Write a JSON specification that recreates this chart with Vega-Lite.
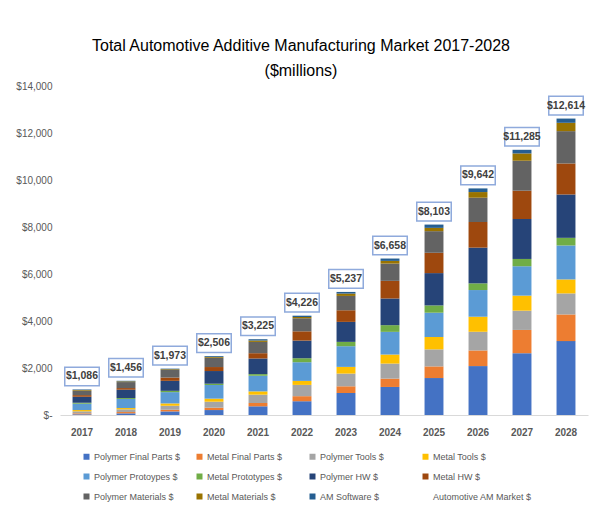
{
  "$schema": "https://vega.github.io/schema/vega-lite/v6.json",
  "width": 528,
  "height": 329,
  "autosize": {"type": "none"},
  "padding": {"left": 60, "top": 86, "right": 5, "bottom": 93},
  "background": "white",
  "config": {
    "view": {"stroke": null},
    "font": "Liberation Sans"
  },
  "title": {
    "text": ["Total Automotive Additive Manufacturing Market 2017-2028", "($millions)"],
    "font": "Liberation Sans",
    "fontSize": 16,
    "fontWeight": "normal",
    "color": "#000000",
    "lineHeight": 25,
    "anchor": "middle",
    "frame": "group",
    "dx": -23,
    "offset": 2
  },
  "datasets": {
    "segments": [
      {"year": "2017", "series": "Polymer Final Parts $", "value": 31},
      {"year": "2017", "series": "Metal Final Parts $", "value": 40},
      {"year": "2017", "series": "Polymer Tools $", "value": 85},
      {"year": "2017", "series": "Metal Tools $", "value": 55},
      {"year": "2017", "series": "Polymer Protoypes $", "value": 270},
      {"year": "2017", "series": "Metal Prototypes $", "value": 40},
      {"year": "2017", "series": "Polymer HW $", "value": 255},
      {"year": "2017", "series": "Metal HW $", "value": 70},
      {"year": "2017", "series": "Polymer Materials $", "value": 185},
      {"year": "2017", "series": "Metal Materials $", "value": 30},
      {"year": "2017", "series": "AM Software $", "value": 25},
      {"year": "2018", "series": "Polymer Final Parts $", "value": 71},
      {"year": "2018", "series": "Metal Final Parts $", "value": 55},
      {"year": "2018", "series": "Polymer Tools $", "value": 115},
      {"year": "2018", "series": "Metal Tools $", "value": 55},
      {"year": "2018", "series": "Polymer Protoypes $", "value": 385},
      {"year": "2018", "series": "Metal Prototypes $", "value": 40},
      {"year": "2018", "series": "Polymer HW $", "value": 355},
      {"year": "2018", "series": "Metal HW $", "value": 70},
      {"year": "2018", "series": "Polymer Materials $", "value": 255},
      {"year": "2018", "series": "Metal Materials $", "value": 30},
      {"year": "2018", "series": "AM Software $", "value": 25},
      {"year": "2019", "series": "Polymer Final Parts $", "value": 153},
      {"year": "2019", "series": "Metal Final Parts $", "value": 70},
      {"year": "2019", "series": "Polymer Tools $", "value": 170},
      {"year": "2019", "series": "Metal Tools $", "value": 100},
      {"year": "2019", "series": "Polymer Protoypes $", "value": 480},
      {"year": "2019", "series": "Metal Prototypes $", "value": 55},
      {"year": "2019", "series": "Polymer HW $", "value": 425},
      {"year": "2019", "series": "Metal HW $", "value": 140},
      {"year": "2019", "series": "Polymer Materials $", "value": 325},
      {"year": "2019", "series": "Metal Materials $", "value": 30},
      {"year": "2019", "series": "AM Software $", "value": 25},
      {"year": "2020", "series": "Polymer Final Parts $", "value": 211},
      {"year": "2020", "series": "Metal Final Parts $", "value": 100},
      {"year": "2020", "series": "Polymer Tools $", "value": 255},
      {"year": "2020", "series": "Metal Tools $", "value": 130},
      {"year": "2020", "series": "Polymer Protoypes $", "value": 580},
      {"year": "2020", "series": "Metal Prototypes $", "value": 55},
      {"year": "2020", "series": "Polymer HW $", "value": 540},
      {"year": "2020", "series": "Metal HW $", "value": 170},
      {"year": "2020", "series": "Polymer Materials $", "value": 395},
      {"year": "2020", "series": "Metal Materials $", "value": 35},
      {"year": "2020", "series": "AM Software $", "value": 35},
      {"year": "2021", "series": "Polymer Final Parts $", "value": 370},
      {"year": "2021", "series": "Metal Final Parts $", "value": 140},
      {"year": "2021", "series": "Polymer Tools $", "value": 355},
      {"year": "2021", "series": "Metal Tools $", "value": 140},
      {"year": "2021", "series": "Polymer Protoypes $", "value": 665},
      {"year": "2021", "series": "Metal Prototypes $", "value": 70},
      {"year": "2021", "series": "Polymer HW $", "value": 665},
      {"year": "2021", "series": "Metal HW $", "value": 225},
      {"year": "2021", "series": "Polymer Materials $", "value": 480},
      {"year": "2021", "series": "Metal Materials $", "value": 60},
      {"year": "2021", "series": "AM Software $", "value": 55},
      {"year": "2022", "series": "Polymer Final Parts $", "value": 586},
      {"year": "2022", "series": "Metal Final Parts $", "value": 215},
      {"year": "2022", "series": "Polymer Tools $", "value": 480},
      {"year": "2022", "series": "Metal Tools $", "value": 170},
      {"year": "2022", "series": "Polymer Protoypes $", "value": 795},
      {"year": "2022", "series": "Metal Prototypes $", "value": 170},
      {"year": "2022", "series": "Polymer HW $", "value": 750},
      {"year": "2022", "series": "Metal HW $", "value": 395},
      {"year": "2022", "series": "Polymer Materials $", "value": 555},
      {"year": "2022", "series": "Metal Materials $", "value": 55},
      {"year": "2022", "series": "AM Software $", "value": 55},
      {"year": "2023", "series": "Polymer Final Parts $", "value": 937},
      {"year": "2023", "series": "Metal Final Parts $", "value": 285},
      {"year": "2023", "series": "Polymer Tools $", "value": 540},
      {"year": "2023", "series": "Metal Tools $", "value": 285},
      {"year": "2023", "series": "Polymer Protoypes $", "value": 880},
      {"year": "2023", "series": "Metal Prototypes $", "value": 185},
      {"year": "2023", "series": "Polymer HW $", "value": 850},
      {"year": "2023", "series": "Metal HW $", "value": 495},
      {"year": "2023", "series": "Polymer Materials $", "value": 610},
      {"year": "2023", "series": "Metal Materials $", "value": 100},
      {"year": "2023", "series": "AM Software $", "value": 70},
      {"year": "2024", "series": "Polymer Final Parts $", "value": 1193},
      {"year": "2024", "series": "Metal Final Parts $", "value": 355},
      {"year": "2024", "series": "Polymer Tools $", "value": 640},
      {"year": "2024", "series": "Metal Tools $", "value": 385},
      {"year": "2024", "series": "Polymer Protoypes $", "value": 965},
      {"year": "2024", "series": "Metal Prototypes $", "value": 285},
      {"year": "2024", "series": "Polymer HW $", "value": 1135},
      {"year": "2024", "series": "Metal HW $", "value": 750},
      {"year": "2024", "series": "Polymer Materials $", "value": 735},
      {"year": "2024", "series": "Metal Materials $", "value": 115},
      {"year": "2024", "series": "AM Software $", "value": 100},
      {"year": "2025", "series": "Polymer Final Parts $", "value": 1573},
      {"year": "2025", "series": "Metal Final Parts $", "value": 495},
      {"year": "2025", "series": "Polymer Tools $", "value": 725},
      {"year": "2025", "series": "Metal Tools $", "value": 525},
      {"year": "2025", "series": "Polymer Protoypes $", "value": 1035},
      {"year": "2025", "series": "Metal Prototypes $", "value": 310},
      {"year": "2025", "series": "Polymer HW $", "value": 1375},
      {"year": "2025", "series": "Metal HW $", "value": 865},
      {"year": "2025", "series": "Polymer Materials $", "value": 920},
      {"year": "2025", "series": "Metal Materials $", "value": 140},
      {"year": "2025", "series": "AM Software $", "value": 140},
      {"year": "2026", "series": "Polymer Final Parts $", "value": 2082},
      {"year": "2026", "series": "Metal Final Parts $", "value": 665},
      {"year": "2026", "series": "Polymer Tools $", "value": 795},
      {"year": "2026", "series": "Metal Tools $", "value": 640},
      {"year": "2026", "series": "Polymer Protoypes $", "value": 1135},
      {"year": "2026", "series": "Metal Prototypes $", "value": 285},
      {"year": "2026", "series": "Polymer HW $", "value": 1520},
      {"year": "2026", "series": "Metal HW $", "value": 1090},
      {"year": "2026", "series": "Polymer Materials $", "value": 1035},
      {"year": "2026", "series": "Metal Materials $", "value": 240},
      {"year": "2026", "series": "AM Software $", "value": 155},
      {"year": "2027", "series": "Polymer Final Parts $", "value": 2630},
      {"year": "2027", "series": "Metal Final Parts $", "value": 990},
      {"year": "2027", "series": "Polymer Tools $", "value": 820},
      {"year": "2027", "series": "Metal Tools $", "value": 640},
      {"year": "2027", "series": "Polymer Protoypes $", "value": 1250},
      {"year": "2027", "series": "Metal Prototypes $", "value": 310},
      {"year": "2027", "series": "Polymer HW $", "value": 1700},
      {"year": "2027", "series": "Metal HW $", "value": 1205},
      {"year": "2027", "series": "Polymer Materials $", "value": 1275},
      {"year": "2027", "series": "Metal Materials $", "value": 310},
      {"year": "2027", "series": "AM Software $", "value": 155},
      {"year": "2028", "series": "Polymer Final Parts $", "value": 3144},
      {"year": "2028", "series": "Metal Final Parts $", "value": 1135},
      {"year": "2028", "series": "Polymer Tools $", "value": 895},
      {"year": "2028", "series": "Metal Tools $", "value": 595},
      {"year": "2028", "series": "Polymer Protoypes $", "value": 1445},
      {"year": "2028", "series": "Metal Prototypes $", "value": 325},
      {"year": "2028", "series": "Polymer HW $", "value": 1845},
      {"year": "2028", "series": "Metal HW $", "value": 1320},
      {"year": "2028", "series": "Polymer Materials $", "value": 1375},
      {"year": "2028", "series": "Metal Materials $", "value": 355},
      {"year": "2028", "series": "AM Software $", "value": 180}
    ],
    "totals": [
      {"year": "2017", "total": 1086},
      {"year": "2018", "total": 1456},
      {"year": "2019", "total": 1973},
      {"year": "2020", "total": 2506},
      {"year": "2021", "total": 3225},
      {"year": "2022", "total": 4226},
      {"year": "2023", "total": 5237},
      {"year": "2024", "total": 6658},
      {"year": "2025", "total": 8103},
      {"year": "2026", "total": 9642},
      {"year": "2027", "total": 11285},
      {"year": "2028", "total": 12614}
    ]
  },
  "encoding": {
    "x": {
      "field": "year",
      "type": "ordinal",
      "title": null,
      "scale": {"paddingInner": 0.57, "paddingOuter": 0.285},
      "axis": {
        "labelAngle": 0,
        "labelFont": "Liberation Sans",
        "labelFontSize": 10,
        "labelFontWeight": "bold",
        "labelColor": "#595959",
        "labelPadding": 12,
        "ticks": false,
        "domainColor": "#D9D9D9",
        "domainWidth": 1
      }
    }
  },
  "layer": [
    {
      "data": {"name": "segments"},
      "transform": [
        {"calculate": "indexof(['Polymer Final Parts $', 'Metal Final Parts $', 'Polymer Tools $', 'Metal Tools $', 'Polymer Protoypes $', 'Metal Prototypes $', 'Polymer HW $', 'Metal HW $', 'Polymer Materials $', 'Metal Materials $', 'AM Software $'], datum.series)", "as": "stackOrder"}
      ],
      "mark": {"type": "bar"},
      "encoding": {
        "y": {
          "field": "value",
          "type": "quantitative",
          "stack": "zero",
          "title": null,
          "scale": {"domain": [0, 14000], "nice": false},
          "axis": {
            "values": [0, 2000, 4000, 6000, 8000, 10000, 12000, 14000],
            "labelExpr": "datum.value == 0 ? '$-' : '$' + format(datum.value, ',')",
            "labelFont": "Liberation Sans",
            "labelFontSize": 10,
            "labelColor": "#595959",
            "labelPadding": 8,
            "ticks": false,
            "domain": false,
            "grid": false
          }
        },
        "color": {
          "field": "series",
          "type": "nominal",
          "sort": ["Polymer Final Parts $", "Metal Final Parts $", "Polymer Tools $", "Metal Tools $", "Polymer Protoypes $", "Metal Prototypes $", "Polymer HW $", "Metal HW $", "Polymer Materials $", "Metal Materials $", "AM Software $", "Automotive AM Market $"],
          "scale": {
            "domain": ["Polymer Final Parts $", "Metal Final Parts $", "Polymer Tools $", "Metal Tools $", "Polymer Protoypes $", "Metal Prototypes $", "Polymer HW $", "Metal HW $", "Polymer Materials $", "Metal Materials $", "AM Software $", "Automotive AM Market $"],
            "range": ["#4472C4", "#ED7D31", "#A5A5A5", "#FFC000", "#5B9BD5", "#70AD47", "#264478", "#9E480E", "#636363", "#997300", "#255E91", "#FFFFFF"]
          },
          "legend": {
            "title": null,
            "orient": "none",
            "legendX": 22,
            "legendY": 366,
            "direction": "horizontal",
            "columns": 4,
            "gridAlign": "all",
            "columnPadding": 2,
            "rowPadding": 10,
            "symbolType": "square",
            "symbolSize": 36,
            "symbolStrokeWidth": 0,
            "symbolOffset": 0,
            "labelFont": "Liberation Sans",
            "labelFontSize": 9,
            "labelColor": "#595959",
            "labelOffset": 3,
            "labelLimit": 200
          }
        },
        "order": {"field": "stackOrder", "type": "quantitative", "sort": "ascending"}
      }
    },
    {
      "data": {"name": "totals"},
      "mark": {
        "type": "point",
        "shape": "M-1,-0.54H1V0.54H-1Z",
        "size": 1190,
        "filled": true,
        "fill": "#FFFFFF",
        "stroke": "#8FAADC",
        "strokeWidth": 1.5,
        "opacity": 1,
        "yOffset": -13
      },
      "encoding": {
        "y": {"field": "total", "type": "quantitative"}
      }
    },
    {
      "data": {"name": "totals"},
      "mark": {
        "type": "text",
        "font": "Liberation Sans",
        "fontSize": 10.5,
        "fontWeight": "bold",
        "color": "#404040",
        "baseline": "middle",
        "align": "center",
        "yOffset": -13
      },
      "encoding": {
        "y": {"field": "total", "type": "quantitative"},
        "text": {"field": "total", "type": "quantitative", "format": "$,"}
      }
    }
  ]
}
